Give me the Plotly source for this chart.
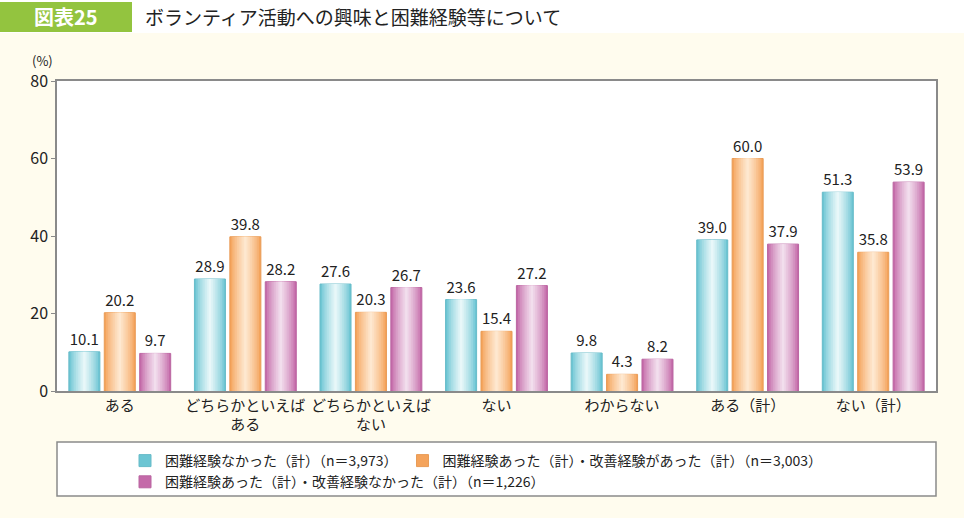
import plotly.graph_objects as go

categories = ["ある", "どちらかといえば<br>ある", "どちらかといえば<br>ない", "ない", "わからない", "ある（計）", "ない（計）"]
series_names = [
    "困難経験なかった（計）（n＝3,973）",
    "困難経験あった（計）・改善経験があった（計）（n＝3,003）",
    "困難経験あった（計）・改善経験なかった（計）（n＝1,226）",
]
no_difficulty = [10.1, 28.9, 27.6, 23.6, 9.8, 39.0, 51.3]
improved = [20.2, 39.8, 20.3, 15.4, 4.3, 60.0, 35.8]
not_improved = [9.7, 28.2, 26.7, 27.2, 8.2, 37.9, 53.9]
values = [no_difficulty, improved, not_improved]
y_ticks = [0, 20, 40, 60, 80]

edge_colors = [(108, 197, 211), (244, 163, 91), (196, 106, 169)]
center_colors = [(232, 247, 249), (254, 232, 208), (242, 222, 237)]

FONT = "Noto Sans CJK JP"
BAR_W = 0.247
PITCH = 0.282
LAYERS = 9

def mix(a, b, t):
    return "rgb(%d,%d,%d)" % tuple(round(a[i] + (b[i] - a[i]) * t) for i in range(3))

fig = go.Figure()
for s in range(3):
    center = (s - 1) * PITCH
    for k in range(LAYERS):
        t = k / (LAYERS - 1)
        w = BAR_W * (1 - 0.92 * t)
        first = k == 0
        fig.add_trace(go.Bar(
            x=categories,
            y=values[s],
            width=w,
            offset=center - w / 2,
            marker=dict(color=mix(edge_colors[s], center_colors[s], t ** 0.8),
                        line=dict(width=1 if first else 0,
                                  color=mix(edge_colors[s], (0, 0, 0), 0.05))),
            name=series_names[s],
            showlegend=first,
            legendgroup=str(s),
            text=[f"{v:.1f}" for v in values[s]] if first else None,
            textposition="outside" if first else "none",
            textfont=dict(family=FONT, size=15, color="#222"),
            cliponaxis=False,
            hoverinfo="skip" if not first else None,
        ))

# geometry helpers (plot area in pixels)
L, R, T, B = 57, 936, 81, 391
def px(x):
    return (x - L) / (R - L)
def py(y):
    return (B - y) / (B - T)

shapes = [
    dict(type="rect", xref="paper", yref="paper", x0=px(0), x1=px(964), y0=py(33), y1=py(-5),
         fillcolor="white", line=dict(width=0), layer="below"),
    dict(type="rect", xref="paper", yref="paper", x0=px(0), x1=px(132), y0=py(32), y1=py(2),
         fillcolor="#93c43f", line=dict(width=0), layer="below"),
    dict(type="rect", xref="paper", yref="paper", x0=px(57), x1=px(936), y0=py(496), y1=py(442),
         fillcolor="white", line=dict(width=1.5, color="#8a8a8a"), layer="below"),
]

annotations = [
    dict(text="<b>図表25</b>", xref="paper", yref="paper", x=px(66), y=py(17), showarrow=False,
         xanchor="center", yanchor="middle", font=dict(family=FONT, size=20, color="white")),
    dict(text="ボランティア活動への興味と困難経験等について", xref="paper", yref="paper",
         x=px(143), y=py(17), showarrow=False, xanchor="left", yanchor="middle",
         font=dict(family=FONT, size=19, color="#222")),
    dict(text="(%)", xref="paper", yref="paper", x=px(42), y=py(60), showarrow=False,
         xanchor="center", yanchor="middle", font=dict(family=FONT, size=13, color="#222")),
]

fig.update_layout(
    width=964, height=518,
    margin=dict(l=L, r=964 - R, t=T, b=518 - B),
    paper_bgcolor="#fffcee",
    plot_bgcolor="white",
    barmode="overlay",
    font=dict(family=FONT, color="#222"),
    shapes=shapes,
    annotations=annotations,
    showlegend=True,
    legend=dict(orientation="h", x=px(125), y=py(445), xanchor="left", yanchor="top",
                bgcolor="rgba(0,0,0,0)", font=dict(family=FONT, size=14, color="#222"),
                tracegroupgap=0, itemwidth=30),
    xaxis=dict(type="category", categoryorder="array", categoryarray=categories,
               showline=True, linecolor="#8a8a8a", linewidth=1.5, mirror=True,
               ticks="", tickfont=dict(family=FONT, size=15, color="#222"),
               showgrid=False, range=[-0.5, 6.5]),
    yaxis=dict(range=[0, 80], tickvals=y_ticks, showline=True, linecolor="#8a8a8a",
               linewidth=1.5, mirror=True, ticks="outside", ticklen=4, tickcolor="#8a8a8a",
               tickfont=dict(family=FONT, size=16, color="#222"), showgrid=False, zeroline=False),
)

fig.write_html("out.html", config={"displayModeBar": False},
               post_script="document.body.style.margin='0';document.body.style.padding='0';")
